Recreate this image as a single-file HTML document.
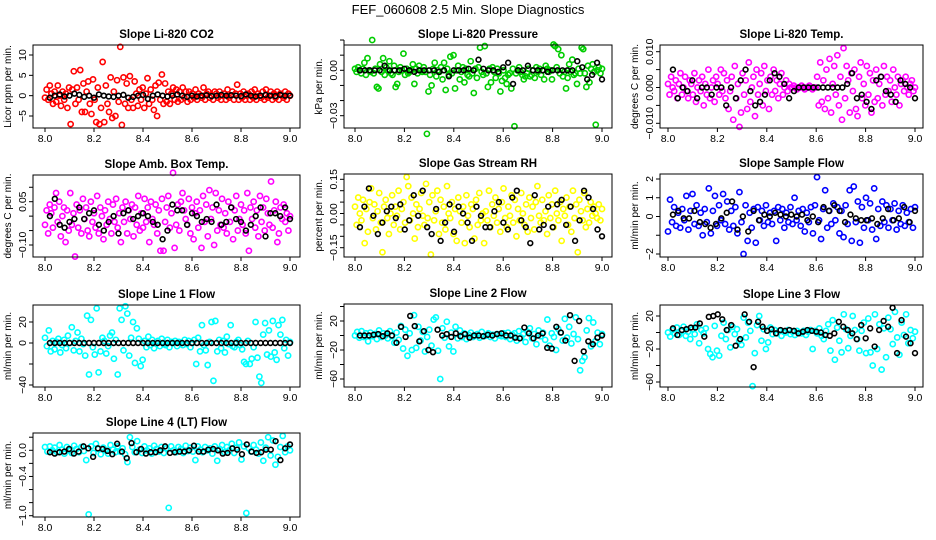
<!DOCTYPE html>
<html><head><meta charset="utf-8"><style>
html,body{margin:0;padding:0;background:#fff;}
svg{display:block;font-family:"Liberation Sans",Arial,sans-serif;}
</style></head><body>
<svg id="chart" width="936" height="540" viewBox="0 0 936 540" xmlns="http://www.w3.org/2000/svg">
<rect width="936" height="540" fill="#fff"/>
<text x="468" y="14" text-anchor="middle" font-size="13">FEF_060608  2.5 Min. Slope Diagnostics</text>
</svg>
<script>
const xTicks=[8.0,8.2,8.4,8.6,8.8,9.0];
const p1Vals=[-0.5,1.5,-1,2.5,0.5,-2,1,-1.5,2.5,0,-2.5,1,-1,0.5,-3,2,-7,1.5,6,-2,2,-1,6.3,-4,3,-4,1,3.5,-2,-4.5,4,-1,-6.5,2,-7,-3,8.3,-6.5,2.5,-2,-4,4.5,-5.5,1,-5,3.8,-1.5,12,-7.2,4.5,-2,3,-3,4.8,-1,-3,3.5,0.5,-2.5,1.5,-1,2,-3,0.5,4.3,-2,1.5,-1,-3.5,2.5,-5,3.2,-1,5.2,-2,3,-1.5,1,-2,0.5,2,-1,1.5,-1.5,1,-1,2,-0.5,1,-1.5,1,-1,0.5,-0.5,1.5,-1,0.5,0,-0.5,2,-1,0.5,1,-0.5,0,-1,1,0.5,-0.5,1,-1,0,0.5,-1,1.5,-0.5,0,1,-1,0.5,2.7,-1,0.5,-0.5,1,-1,0,0.5,-1,1,-0.5,1.5,-1,0.5,0,-0.5,1,-1,1.5,-0.5,0,1,-1,0.5,-0.5,1,-1,0.5,0,-0.5,1,-1,0.5,0];
const p1Blk=[-0.5,0,0.3,-0.2,0,0.5,0.2,-0.3,0,-0.5,0.3,0,-0.2,-0.3,0,0.2,-0.5,-0.3,0,0.2,-0.8,0,0.3,0,-0.2,0,0.3,0,-0.3,0,-0.2,0,0.1,-0.1,0,0.2,0,0.1,0,-0.1,0.3,0,-0.2,0,0.2,0,-0.1,0.2,0,0];
const p2Vals=[1,-1,2,0,-2,1,5,-3,8,0,-1,20,-2,1,-11,-12,4,-1,8,-3,2,0,6,-2,-3,3,-11,-9,-1,2,0,11,-3,1,-2,-1,0,4,-9,1,-2,3,0,-1,2,-1,-42,-14,-3,-10,1,5,-4,0,-1,2,-6,5,-13,1,-3,9,-2,10,-12,0,3,-6,-1,2,-8,1,-3,-4,6,-2,-15,1,-5,2,15,-1,-3,16,-2,-11,1,-8,2,-1,-5,1,-2,-14,-7,0,-5,-9,-3,-2,-12,1,-37,-2,0,2,-1,-3,-6,-4,-2,1,-4,-3,0,-5,2,-1,1,-3,0,-6,3,1,-1,0,-6,17,16,2,14,-2,10,-4,-1,-12,-5,4,-1,7,-3,-2,-9,1,-2,15,14,-2,-11,3,-8,1,4,-1,-36,0,2,-2,1];
const p2Blk=[0,0,0,0,0,3,0,0,0,1,0,-1,0,0,0,0,-1,0,-4,0,0,0,1,0,7,1,0,0,-1,2,5,-9,0,0,3,0,0,0,-1,0,0,0,0,0,6,2,-6,-3,5,-6];
const p3Vals=[1,-2,3,0,-1,2,-3,1,4,-2,0,3,-1,-3,2,1,-2,4,-4,0,2,-1,3,-5,1,-2,5,-3,0,2,-4,3,1,-2,5,-1,4,-3,2,-6,-1,3,-9,6,-3,1,-11,-7,4,-2,2,-6,7,-4,0,3,-8,5,-2,1,4,-5,6,-1,2,-6,3,-2,5,-1,2,-3,1,4,-2,0,2,-1,1,0,0,0.5,0,-0.5,0,0,0.5,0,-0.5,0,0,0.5,0,-0.5,0,0,3,-5,7,-4,2,-6,5,-3,8,-7,1,6,-2,9,-5,3,-9,11,-3,6,2,-7,4,-1,5,-6,-8,3,7,-3,1,-5,6,-2,4,-7,2,-4,5,-3,1,3,-5,6,-2,3,-1,2,-4,5,0,-2,3,-5,1,2,-1,3,0,-2,1,2,-1,0];
const p3Blk=[5,-3,0,-1,2,-3,0,0,-2,0,0,-5,0,-3,2,5,-1,-5,-4,-2,2,4,3,1,-3,-1,0,0,0,0,0,0,0,0,0,0,1,4,-3,-2,-4,-6,2,3,-1,-2,-4,2,1,0,-3];
const p4Vals=[-3,2,-6,4,1,-4,3,8,-2,5,-7,0,3,-9,2,-5,8,-3,1,-14,4,-4,2,-6,6,-1,3,-5,-7,5,-2,1,-4,7,-6,3,0,-8,2,-3,5,-1,-6,4,-2,6,-4,1,-9,3,-2,5,-6,2,-1,4,-7,3,-3,7,-5,1,-4,6,-2,3,-9,5,-1,-3,4,-6,2,-12,6,-12,-2,3,7,-4,1,15,-11,-3,4,-5,5,8,2,-1,-3,6,-6,3,-8,1,5,-4,2,-11,7,-2,4,-7,9,-1,3,-10,8,-5,2,-3,6,-4,1,-6,5,-2,3,-8,2,7,-5,-1,4,-3,2,-6,8,-12,3,-1,5,-4,2,-7,7,-2,3,-5,6,1,-3,12,-4,2,5,-9,-6,3,-1,4,-2,1,-5,0];
const p4Blk=[0,6,-3,-4,-2,-1,3,-1,1,2,-3,-5,-2,0,-6,1,2,-1,0,1,0,-2,-3,-8,-5,4,2,2,-3,1,0,-2,-1,-2,4,-3,-2,3,-1,-2,-5,-3,0,3,-7,1,1,0,3,-1];
const p5Vals=[3,-5,7,0,-3,6,-13,2,-8,5,11,-2,4,-7,1,9,-4,-17,3,6,-2,-9,0,8,-5,3,-1,10,-7,2,5,-4,16,12,-3,7,0,-11,4,-6,2,9,-1,-5,13,-2,5,-18,8,-3,1,10,-9,6,-4,3,-7,12,0,-2,5,-9,2,-12,7,1,-4,3,-13,8,-1,-6,4,2,-11,6,-5,9,-3,0,-13,1,-3,10,-6,4,-1,7,-4,2,-8,5,11,-2,-6,3,-1,8,-4,6,-10,2,-3,9,0,-5,4,-8,7,-2,3,-7,5,12,-1,-4,6,-3,1,-9,8,-2,4,-6,10,0,-3,5,-12,2,-1,7,-5,3,-8,10,-2,4,-17,6,1,-3,9,-6,2,-4,5,-1,3,0,-2,4,-3,2];
const p5Blk=[-6,3,11,-1,-9,-4,1,3,-2,4,-7,-3,8,-1,10,-6,-9,2,-12,-4,4,-8,3,0,-4,-12,3,-1,-6,-6,1,5,-4,-7,7,10,-3,-6,-13,8,-7,-5,3,-6,4,6,-5,3,-12,-3,10,7,2,-7,-10];
const p6Vals=[-0.8,0.9,-0.3,0.5,-0.5,0.2,-0.6,0.4,-0.2,1.1,-0.7,0.3,1.2,-0.4,0.6,-0.5,0.2,-1,0.4,-0.3,1.5,-0.9,0.3,1.1,-0.5,0.6,-0.2,1.2,-0.4,0.8,-0.7,0.3,-0.5,0.5,-0.9,1.3,-0.3,-2,0.6,-1.3,0.2,-0.6,0.4,-1.4,0.5,-0.2,0.3,-0.5,0.6,-0.3,0.2,-0.4,0.3,-1.3,0.5,-0.2,0.4,-0.6,0.2,-0.3,0.5,-0.4,1,-0.2,0.3,-0.5,0.4,-0.8,0.2,-0.3,0.5,-0.9,0.6,2.1,-0.2,-1.2,0.4,1.4,-0.6,0.3,-0.4,0.7,-0.2,0.5,-0.9,0.3,-1.1,0.6,-0.4,1.4,-1.3,1.6,-0.3,0.8,-1.4,0.5,-0.6,1,-0.2,0.7,-0.7,1.5,-1.2,0.4,-0.5,0.8,-0.3,0.6,-0.6,0.4,-0.2,0.7,-0.7,0.3,-0.4,0.6,-0.5,0.2,-0.3,0.4,-0.6,0.5];
const p6Blk=[0.1,0.3,-0.1,-0.1,0.3,-0.3,-0.4,-0.6,-0.4,-0.1,0.2,0.8,-0.7,0,-0.8,0.3,-0.2,0.1,0,0.2,0.1,0,0.1,0,0.1,-0.2,0,-0.3,0.5,0.3,0.6,0.3,-0.3,0.1,-0.1,-0.2,-0.2,-0.1,-0.4,-0.1,0.4,-0.2,-0.1,0.5,-0.3,0.3];
const p7Vals=[5,-3,12,-8,2,-6,1,4,-9,-2,3,-5,7,0,15,-7,2,10,-8,4,-1,-12,26,-30,22,-4,-11,33,-28,-8,5,2,-10,-3,7,10,-15,3,-30,33,22,-7,35,28,-12,5,20,-19,14,4,-22,-16,2,-4,6,-2,3,-5,0,2,-3,4,-1,-2,3,-4,1,0,2,-3,1,0,-2,3,-1,2,-4,0,3,-20,5,-8,17,-2,-7,-21,1,20,-36,21,-8,3,-5,2,-9,6,-1,17,-3,-4,1,3,-2,-6,-18,-20,2,-20,-15,-4,20,-14,-32,-38,8,19,-11,12,-13,21,-9,-16,17,8,22,-5,3,-12,1];
const p7Blk=[0,0,0,0,0,0,0,0,0,0,0,0,0,0,0,0,0,0,0,0,0,0,0,0,0,0,0,0,0,0,0,0,0,0,0,0,0,0,0,0,0,0,0,0,0,0,0,0,0,0];
const p8Vals=[0,5,-3,6,-2,3,-8,4,-1,2,-5,7,-2,3,0,-4,6,-1,-10,4,-6,13,-18,8,-28,3,-20,28,-17,12,-7,5,-22,-2,8,-14,22,25,-21,-60,10,-3,19,-15,4,-22,12,-4,7,-2,3,-5,1,4,-2,0,2,-3,5,-1,0,3,-2,1,-4,2,0,-1,3,-2,4,-5,1,3,-7,6,-3,2,-9,5,10,-4,2,-12,7,-1,4,-6,22,-14,3,-2,-20,9,4,-7,23,-3,12,-11,2,25,-5,-48,-35,-30,7,24,-15,18,-8,4,-12,2];
const p8Blk=[0,0,0,1,2,-1,3,0,-10,12,-2,27,13,-8,6,-20,-23,8,0,2,-2,3,-1,2,-3,0,0,-1,1,0,2,3,0,0,-3,-4,11,3,-4,0,3,-17,-18,12,4,-7,28,-35,20,-22,-8,-12,-3,0];
const p9Vals=[0,-5,3,-1,6,-3,2,7,-4,1,-8,4,-2,10,-13,3,-1,5,-20,-26,-30,8,-22,-28,-4,12,-8,3,-18,7,-2,4,-10,-15,18,-6,12,2,-65,-25,9,20,-10,4,-20,-12,6,-2,3,-1,2,-4,1,0,3,-2,1,-3,2,0,-1,2,-3,1,3,-20,2,-1,5,-4,-8,2,10,-22,15,-33,6,-10,-24,22,4,-19,-4,20,3,-8,-22,2,12,-25,17,-24,-40,22,-20,10,-45,5,-30,18,4,-14,25,-6,-27,12,-3,22,-13,3,-7,1];
const p9Blk=[5,-3,3,4,6,6,11,-5,19,20,22,16,3,9,-16,-8,22,13,-42,13,7,2,4,-1,3,2,3,2,-1,1,3,2,1,0,-3,-4,-1,13,7,3,-1,-8,9,-7,5,-17,3,14,7,30,-25,15,-5,-13,-25];
const p10Vals=[0.05,-0.02,0.06,0,0.04,-0.03,0.08,0.01,-0.05,0.05,0,-0.04,0.07,0.02,-0.03,0.05,-0.01,-0.15,-0.98,0.06,-0.04,0.1,0.02,-0.06,0.04,0,-0.05,0.08,0.01,-0.03,0.06,-0.02,0.03,-0.06,-0.18,0.2,0.05,-0.03,0.14,0.01,-0.04,0.06,0,0.03,-0.05,0.07,0.02,-0.02,0.05,-0.04,0.03,-0.88,0.06,0,-0.03,0.05,0.02,-0.04,0.07,-0.01,0.04,-0.02,-0.15,0.06,0.01,-0.03,0.05,0,0.03,-0.05,0.06,-0.16,0.02,0.08,-0.03,0.05,0,0.1,-0.04,0.04,0.12,-0.14,0.06,-0.96,0.03,-0.02,0.08,0.01,-0.05,0.12,-0.16,0.04,0.2,-0.08,0.15,-0.22,-0.1,0.05,0.22,-0.03,0.06,0];
const p10Blk=[-0.03,-0.05,-0.03,-0.02,0.02,-0.05,-0.02,0.06,0.03,-0.1,0.03,0.02,-0.01,-0.06,0.1,-0.02,-0.12,0.11,-0.03,0.02,-0.05,-0.03,-0.03,0,0.06,-0.04,-0.03,-0.02,-0.02,0,0.07,-0.02,-0.02,0.01,0.02,0,-0.05,-0.04,0.03,0.01,-0.06,0.09,-0.02,-0.04,-0.03,0.01,0.01,0.14,-0.15,0.03,0.09];
const p1YTicks=[-5,0,5,10], p1YLabels=["−5","0","5","10"];
const p2YTicks=[0.02,0.01,0,-0.01,-0.02,-0.03], p2YLabels=["","","0.00","","","−0.03"];
const p3YTicks=[0.01,0.005,0,-0.005,-0.01], p3YLabels=["0.010","","0.000","","−0.010"];
const p4YTicks=[0.1,0.05,0,-0.05,-0.1], p4YLabels=["","0.05","","","−0.10"];
const p5YTicks=[0.15,0.1,0.05,0,-0.05,-0.1,-0.15], p5YLabels=["0.15","","","0.00","","","−0.15"];
const p6YTicks=[2,1,0,-1,-2], p6YLabels=["2","1","0","","−2"];
const p7YTicks=[20,0,-20,-40], p7YLabels=["20","0","","−40"];
const p8YTicks=[40,20,0,-20,-40,-60], p8YLabels=["","20","","−20","","−60"];
const p9YTicks=[20,0,-20,-40,-60], p9YLabels=["20","","−20","","−60"];
const p10YTicks=[0.2,0,-0.2,-0.4,-0.6,-0.8,-1.0], p10YLabels=["","0.0","","−0.4","","","−1.0"];

const cols=[{l:33,r:300,x8:45,x9:290},{l:344,r:612,x8:355,x9:602},{l:660,r:923,x8:668,x9:915}];
const panels=[
 {name:"li820-co2",title:"Slope Li-820 CO2",ylab:"Licor ppm per min.",c:0,t:45,b:128,cal:[10,55,-5,116],unit:1,col:"#ff0000",vals:p1Vals,blk:p1Blk,yt:p1YTicks,yl:p1YLabels},
 {name:"li820-pressure",title:"Slope Li-820 Pressure",ylab:"kPa per min.",c:1,t:45,b:128,cal:[0,70.3,-0.03,115.7],unit:0.001,col:"#00cd00",vals:p2Vals,blk:p2Blk,yt:p2YTicks,yl:p2YLabels},
 {name:"li820-temp",title:"Slope Li-820 Temp.",ylab:"degrees C per min.",c:2,t:45,b:128,cal:[0.01,51.7,-0.01,123.3],unit:0.001,col:"#ff00ff",vals:p3Vals,blk:p3Blk,yt:p3YTicks,yl:p3YLabels},
 {name:"amb-box-temp",title:"Slope Amb. Box Temp.",ylab:"degrees C per min.",c:0,t:175,b:257,cal:[0.05,201.7,-0.1,245],unit:0.01,col:"#ff00ff",vals:p4Vals,blk:p4Blk,yt:p4YTicks,yl:p4YLabels},
 {name:"gas-stream-rh",title:"Slope Gas Stream RH",ylab:"percent per min.",c:1,t:174,b:257,cal:[0.15,179.3,-0.15,247.7],unit:0.01,col:"#ffff00",vals:p5Vals,blk:p5Blk,yt:p5YTicks,yl:p5YLabels},
 {name:"sample-flow",title:"Slope Sample Flow",ylab:"ml/min per min.",c:2,t:174,b:257,cal:[2,179,-2,254],unit:1,col:"#0000ff",vals:p6Vals,blk:p6Blk,yt:p6YTicks,yl:p6YLabels},
 {name:"line1-flow",title:"Slope Line 1 Flow",ylab:"ml/min per min.",c:0,t:305,b:387,cal:[20,322,-40,385],unit:1,col:"#00ffff",vals:p7Vals,blk:p7Blk,yt:p7YTicks,yl:p7YLabels},
 {name:"line2-flow",title:"Slope Line 2 Flow",ylab:"ml/min per min.",c:1,t:304,b:387,cal:[20,321,-60,379],unit:1,col:"#00ffff",vals:p8Vals,blk:p8Blk,yt:p8YTicks,yl:p8YLabels},
 {name:"line3-flow",title:"Slope Line 3 Flow",ylab:"ml/min per min.",c:2,t:305,b:387,cal:[20,316,-60,382],unit:1,col:"#00ffff",vals:p9Vals,blk:p9Blk,yt:p9YTicks,yl:p9YLabels},
 {name:"line4-lt-flow",title:"Slope Line 4 (LT) Flow",ylab:"ml/min per min.",c:0,t:433,b:517,cal:[0,450.3,-1,515.7],unit:1,col:"#00ffff",vals:p10Vals,blk:p10Blk,yt:p10YTicks,yl:p10YLabels}
];
const NS="http://www.w3.org/2000/svg";
const svg=document.getElementById('chart');
function mk(tag,attrs,parent){const e=document.createElementNS(NS,tag);for(const k in attrs)e.setAttribute(k,attrs[k]);parent.appendChild(e);return e;}
panels.forEach(p=>{
 const C=cols[p.c];
 const xs=v=>C.x8+(v-8)*(C.x9-C.x8);
 const ys=v=>p.cal[1]+(v-p.cal[0])*(p.cal[3]-p.cal[1])/(p.cal[2]-p.cal[0]);
 const g=mk('g',{},svg);
 
 
 const t=mk('text',{x:(C.l+C.r)/2,y:p.t-7,'text-anchor':'middle','font-size':11.5,'font-weight':'bold'},g);
 t.textContent=p.title;
 
 
 const yl=mk('text',{transform:`translate(${C.l-22},${(p.t+p.b)/2}) rotate(-90)`,'text-anchor':'middle','font-size':10},g);
 yl.textContent=p.ylab;
 
 
 const pts=mk('g',{fill:'none','stroke-width':1.6},g);
 
 
 const n=p.vals.length;
 p.vals.forEach((v,i)=>{
  const c=mk('circle',{cx:xs(8+i/(n-1)),cy:ys(v*p.unit),r:2.6,stroke:p.col},pts);
  
  
 });
 const m=p.blk.length;
 p.blk.forEach((v,i)=>{
  const c=mk('circle',{cx:xs(8.02+i*0.98/(m-1)),cy:ys(v*p.unit),r:2.4,stroke:'#000'},pts);
  
  
 });
 const bx=mk('rect',{x:C.l,y:p.t,width:C.r-C.l,height:p.b-p.t,fill:'none',stroke:'#000','stroke-width':1},g);
 
 
 const xa=mk('g',{stroke:'#000'},g);
 
 
 xTicks.forEach(v=>{
  mk('line',{x1:xs(v),x2:xs(v),y1:p.b,y2:p.b+4},xa);
  const tx=mk('text',{x:xs(v),y:p.b+14,'text-anchor':'middle','font-size':10.5,stroke:'none',fill:'#000'},xa);
  tx.textContent=v.toFixed(1);
  
  
 });
 const ya=mk('g',{stroke:'#000'},g);
 
 
 mk('line',{x1:C.l,x2:C.l,y1:ys(p.yt[0]),y2:ys(p.yt[p.yt.length-1])},ya);
 p.yt.forEach((v,i)=>{
  const y=ys(v);
  mk('line',{x1:C.l-4,x2:C.l,y1:y,y2:y},ya);
  if(p.yl[i]){
   const tx=mk('text',{transform:`translate(${C.l-7},${y}) rotate(-90)`,'text-anchor':'middle','font-size':10.5,stroke:'none',fill:'#000'},ya);
   tx.textContent=p.yl[i];
   
   
  }
 });
});
</script>
</body></html>
